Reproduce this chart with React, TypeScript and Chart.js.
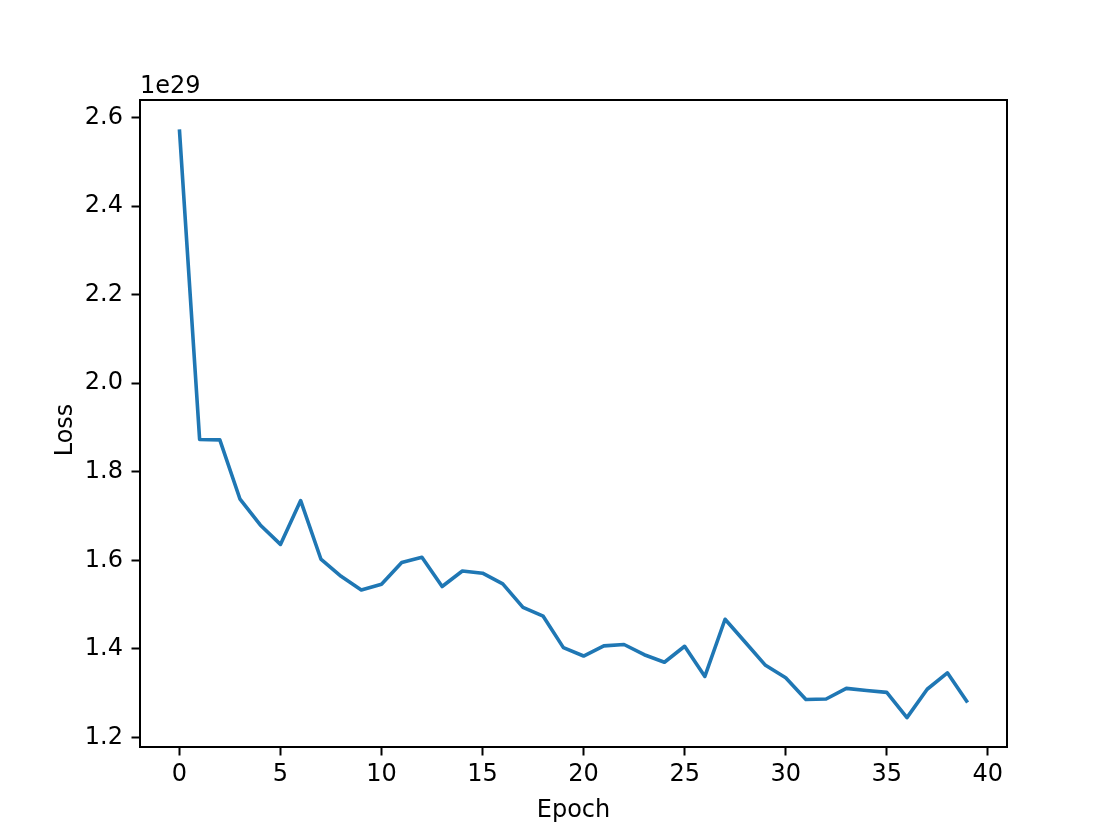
import React, { useEffect, useRef } from "react";
import { Chart, registerables } from "chart.js";

Chart.register(...registerables);

const EPOCHS: number[] = Array.from({ length: 40 }, (_, i) => i);
// Loss values in units of 1e29
const LOSS: number[] = [
  2.573, 1.873, 1.872, 1.738, 1.680, 1.636, 1.735, 1.603, 1.564, 1.533,
  1.546, 1.595, 1.607, 1.541, 1.576, 1.571, 1.547, 1.494, 1.474, 1.403,
  1.384, 1.407, 1.410, 1.387, 1.370, 1.406, 1.338, 1.467, 1.415, 1.363,
  1.335, 1.286, 1.287, 1.311, 1.306, 1.302, 1.245, 1.309, 1.346, 1.279,
];
const X_TICKS: number[] = [0, 5, 10, 15, 20, 25, 30, 35, 40];
const Y_TICKS: number[] = [1.2, 1.4, 1.6, 1.8, 2.0, 2.2, 2.4, 2.6];
const OFFSET_LABEL = "1e29";
const X_TITLE = "Epoch";
const Y_TITLE = "Loss";

const FONT = "'DejaVu Sans', sans-serif";

export default function App() {
  const ref = useRef<HTMLCanvasElement | null>(null);

  useEffect(() => {
    if (!ref.current) return;
    const xMinD = Math.min(...EPOCHS);
    const xMaxD = Math.max(...EPOCHS);
    const yMinD = Math.min(...LOSS);
    const yMaxD = Math.max(...LOSS);
    const xm = (xMaxD - xMinD) * 0.05;
    const ym = (yMaxD - yMinD) * 0.05;

    const overlay = {
      id: "overlay",
      afterDraw(chart: any) {
        const { ctx, chartArea } = chart;
        const { left, right, top, bottom } = chartArea;
        ctx.save();
        ctx.strokeStyle = "#000";
        ctx.lineWidth = 2;
        ctx.strokeRect(left, top, right - left, bottom - top);
        ctx.fillStyle = "#000";
        ctx.font = `24px ${FONT}`;
        ctx.textBaseline = "alphabetic";
        ctx.textAlign = "left";
        ctx.fillText(OFFSET_LABEL, left, 93);
        ctx.textAlign = "center";
        ctx.fillText(X_TITLE, (left + right) / 2, 817);
        ctx.translate(72, 430);
        ctx.rotate(-Math.PI / 2);
        ctx.fillText(Y_TITLE, 0, 0);
        ctx.restore();
      },
    };

    const chart = new Chart(ref.current, {
      type: "line",
      data: {
        datasets: [
          {
            data: EPOCHS.map((e, i) => ({ x: e, y: LOSS[i] })),
            borderColor: "#1f77b4",
            borderWidth: 3.6,
            pointRadius: 0,
            fill: false,
            tension: 0,
            borderCapStyle: "butt",
            borderJoinStyle: "round",
          },
        ],
      },
      options: {
        animation: false,
        responsive: false,
        devicePixelRatio: 1,
        layout: { padding: { left: 0, top: 100, right: 113, bottom: 0 } },
        plugins: { legend: { display: false }, tooltip: { enabled: false } },
        scales: {
          x: {
            type: "linear",
            min: xMinD - xm,
            max: xMaxD + xm,
            afterFit: (s: any) => {
              s.height = 93;
            },
            afterBuildTicks: (s: any) => {
              s.ticks = X_TICKS.map((v) => ({ value: v }));
            },
            grid: {
              display: true,
              drawOnChartArea: false,
              drawTicks: true,
              tickLength: 8.5,
              tickWidth: 2,
              tickColor: "#000",
            },
            border: { display: true, color: "#000", width: 2 },
            ticks: {
              color: "#000",
              font: { family: FONT, size: 24 },
              padding: 5,
              maxRotation: 0,
              autoSkip: false,
              callback: (v: any) => String(v),
            },
          },
          y: {
            type: "linear",
            min: yMinD - ym,
            max: yMaxD + ym,
            afterFit: (s: any) => {
              s.width = 140;
            },
            afterBuildTicks: (s: any) => {
              s.ticks = Y_TICKS.map((v) => ({ value: v }));
            },
            grid: {
              display: true,
              drawOnChartArea: false,
              drawTicks: true,
              tickLength: 8.5,
              tickWidth: 2,
              tickColor: "#000",
            },
            border: { display: true, color: "#000", width: 2 },
            ticks: {
              color: "#000",
              font: { family: FONT, size: 24 },
              padding: 8.5,
              autoSkip: false,
              callback: (v: any) => Number(v).toFixed(1),
            },
          },
        },
      },
      plugins: [overlay],
    } as any);

    return () => chart.destroy();
  }, []);

  return (
    <div style={{ position: "absolute", left: 0, top: 0, width: 1120, height: 840, background: "#fff" }}>
      <canvas ref={ref} width={1120} height={840} style={{ display: "block", width: 1120, height: 840 }} />
    </div>
  );
}
